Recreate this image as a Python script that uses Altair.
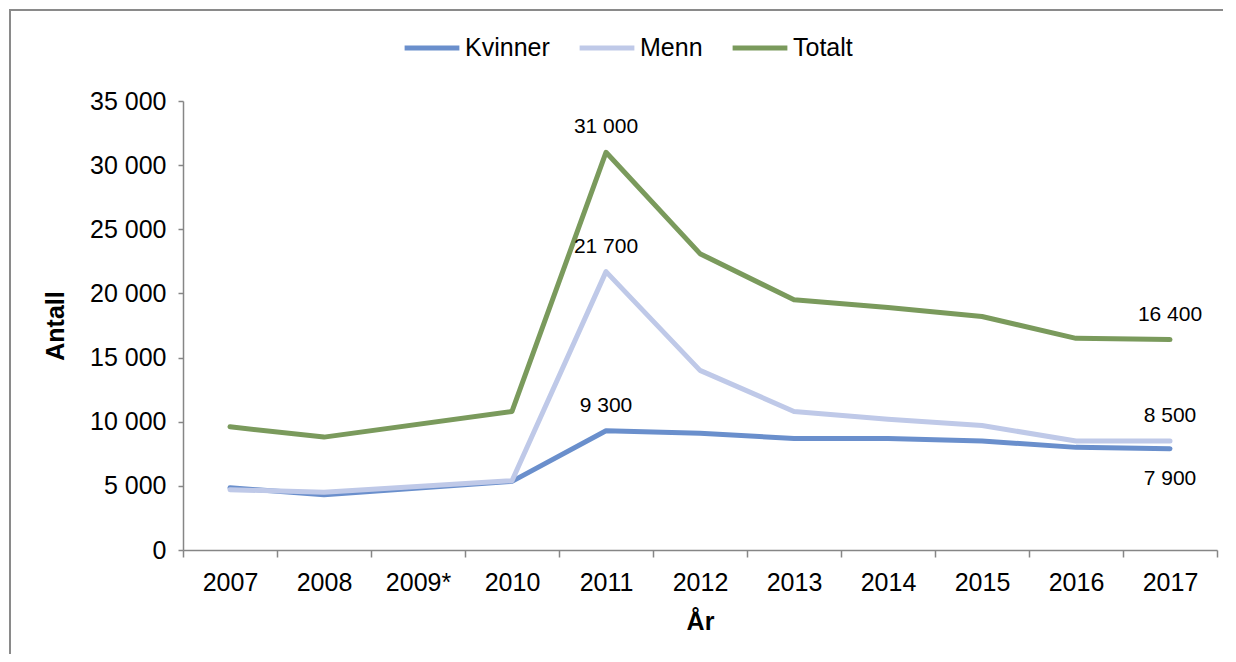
import altair as alt
import pandas as pd

years = ["2007", "2008", "2009*", "2010", "2011", "2012", "2013", "2014", "2015", "2016", "2017"]
kvinner = [4850, 4300, None, 5350, 9300, 9100, 8700, 8700, 8500, 8000, 7900]
menn = [4700, 4500, None, 5400, 21700, 14000, 10800, 10200, 9700, 8500, 8500]
totalt = [9600, 8800, None, 10800, 31000, 23100, 19500, 18900, 18200, 16500, 16400]
series_names = ["Kvinner", "Menn", "Totalt"]
series_colors = ["#6a8fcc", "#bfc9e8", "#7a9a5c"]

# labelled points: (year, series, position)
label_points = [
    ("2011", "Totalt", "above"), ("2011", "Menn", "above"), ("2011", "Kvinner", "above"),
    ("2017", "Totalt", "above"), ("2017", "Menn", "above"), ("2017", "Kvinner", "below"),
]

rows = []
for name, vals in zip(series_names, [kvinner, menn, totalt]):
    for y, v in zip(years, vals):
        if v is not None:
            rows.append({"year": y, "serie": name, "antall": v})
df = pd.DataFrame(rows)

lab_rows = []
for y, s, pos in label_points:
    v = df[(df.year == y) & (df.serie == s)].antall.iloc[0]
    lab_rows.append({"year": y, "serie": s, "antall": v,
                     "label": f"{v:,}".replace(",", " "), "pos": pos})
df_lab = pd.DataFrame(lab_rows)

FONT = "Liberation Sans"
AXIS_COLOR = "#868686"
x_scale = alt.Scale(domain=years, type="band", paddingInner=0, paddingOuter=0)

x_enc = alt.X("year:N", scale=x_scale, bandPosition=0.5,
              axis=alt.Axis(title="År", tickBand="extent", labelAngle=0, labelFontSize=25,
                            labelPadding=13, tickSize=7, titleFontSize=25, titleFontWeight="bold",
                            titlePadding=14, grid=False))
y_enc = alt.Y("antall:Q", scale=alt.Scale(domain=[0, 35000], nice=False),
              axis=alt.Axis(title="Antall", values=list(range(0, 35001, 5000)),
                            labelExpr="replace(format(datum.value, ','), ',', ' ')",
                            labelFontSize=25, labelPadding=12, tickSize=5, titleFontSize=25,
                            titleFontWeight="bold", titlePadding=21, grid=False))

lines = alt.Chart(df).mark_line(strokeWidth=5, strokeCap="round", strokeJoin="round").encode(
    x=x_enc,
    y=y_enc,
    color=alt.Color("serie:N", scale=alt.Scale(domain=series_names, range=series_colors),
                    legend=alt.Legend(title=None, orient="none", legendX=219, legendY=-83,
                                      direction="horizontal", symbolType="stroke",
                                      symbolStrokeWidth=5, symbolSize=3000,
                                      labelFontSize=25, labelOffset=3, columnPadding=19)),
    order=alt.Order("serie:N"),
)

text_above = alt.Chart(df_lab).transform_filter(alt.datum.pos == "above").mark_text(
    fontSize=21, dy=-25, font=FONT, color="#000000", baseline="middle").encode(
    x=alt.X("year:N", scale=x_scale, bandPosition=0.5),
    y="antall:Q", text="label:N")
text_below = alt.Chart(df_lab).transform_filter(alt.datum.pos == "below").mark_text(
    fontSize=21, dy=30, font=FONT, color="#000000", baseline="middle").encode(
    x=alt.X("year:N", scale=x_scale, bandPosition=0.5),
    y="antall:Q", text="label:N")

frame_data = pd.DataFrame({"f": [0]})
frame_top = alt.Chart(frame_data).mark_rect(fill="#8a8a8a", strokeWidth=0).encode(
    x=alt.value(-174), x2=alt.value(1040), y=alt.value(-92), y2=alt.value(-90))
frame_left = alt.Chart(frame_data).mark_rect(fill="#8a8a8a", strokeWidth=0).encode(
    x=alt.value(-174), x2=alt.value(-172), y=alt.value(-92), y2=alt.value(553))

chart = alt.layer(frame_top, frame_left, lines, text_above, text_below).properties(
    width=1034, height=449,
    autosize=alt.AutoSizeParams(type="none"),
    padding={"left": 175, "top": 93, "right": 10, "bottom": 104},
).configure_view(stroke=None).configure_axis(
    domainColor=AXIS_COLOR, tickColor=AXIS_COLOR, domainWidth=1.5, tickWidth=1.5,
    labelColor="#000000", titleColor="#000000", labelFont=FONT, titleFont=FONT,
).configure_legend(labelFont=FONT, labelColor="#000000")

chart.save("out.html", embed_options={"renderer": "svg", "actions": False})
